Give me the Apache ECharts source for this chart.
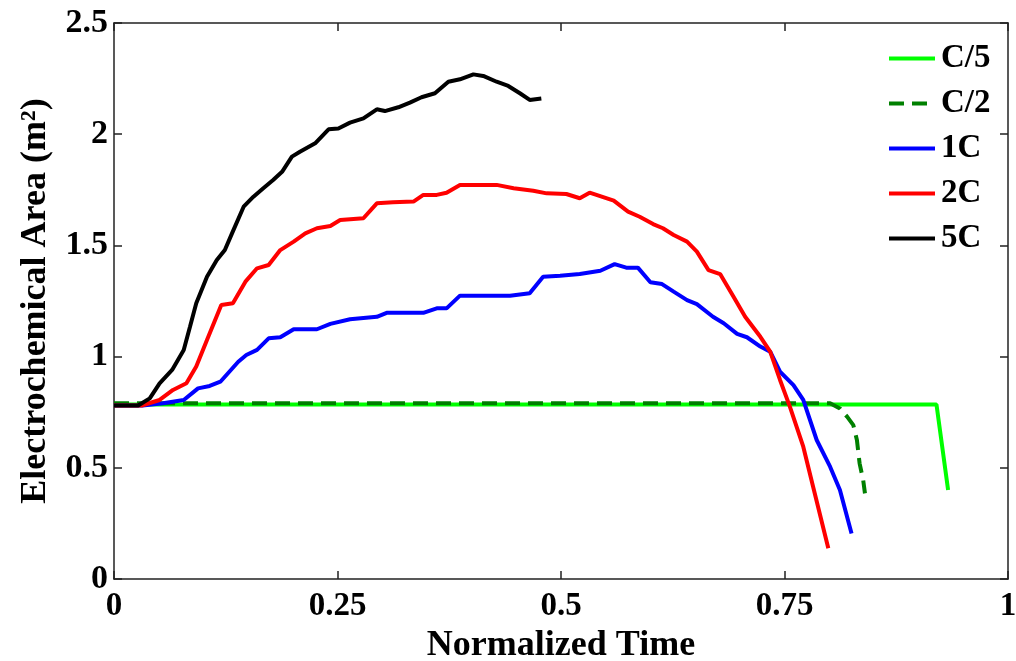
<!DOCTYPE html>
<html>
<head>
<meta charset="utf-8">
<script src="https://cdn.jsdelivr.net/npm/echarts@6/dist/echarts.min.js"></script>
<style>html,body{margin:0;padding:0;background:#fff}#c{width:1016px;height:661px}</style>
</head>
<body>
<div id="c"></div>
<script>
const seriesNames = ['C/5', 'C/2', '1C', '2C', '5C'];
const xTicks = [0, 0.25, 0.5, 0.75, 1];
const yTicks = [0, 0.5, 1, 1.5, 2, 2.5];

const dataC5 = [[0,0.785],[0.92,0.785],[0.933,0.40]];
const dataC2 = [[0,0.79],[0.801,0.79],[0.812,0.767],[0.820,0.730],[0.827,0.692],[0.831,0.625],[0.834,0.520],[0.838,0.445],[0.840,0.385]];
const data1C = [[0,0.78],[0.032,0.78],[0.055,0.79],[0.078,0.805],[0.094,0.857],[0.107,0.868],[0.119,0.887],[0.139,0.977],[0.148,1.007],[0.160,1.030],[0.173,1.082],[0.186,1.087],[0.201,1.123],[0.227,1.123],[0.242,1.147],[0.264,1.168],[0.294,1.179],[0.305,1.197],[0.346,1.197],[0.361,1.217],[0.372,1.217],[0.387,1.274],[0.443,1.274],[0.465,1.285],[0.480,1.359],[0.499,1.364],[0.521,1.371],[0.544,1.386],[0.560,1.416],[0.573,1.400],[0.586,1.400],[0.600,1.334],[0.613,1.326],[0.626,1.292],[0.641,1.254],[0.652,1.236],[0.670,1.179],[0.682,1.150],[0.697,1.102],[0.708,1.087],[0.723,1.045],[0.734,1.022],[0.745,0.932],[0.760,0.872],[0.771,0.805],[0.786,0.625],[0.801,0.505],[0.812,0.400],[0.825,0.205]];
const data2C = [[0,0.78],[0.031,0.78],[0.051,0.805],[0.066,0.850],[0.081,0.880],[0.092,0.955],[0.104,1.075],[0.120,1.232],[0.133,1.240],[0.147,1.337],[0.160,1.397],[0.173,1.412],[0.186,1.479],[0.201,1.517],[0.214,1.554],[0.227,1.577],[0.242,1.587],[0.253,1.614],[0.279,1.622],[0.294,1.689],[0.312,1.694],[0.335,1.697],[0.346,1.727],[0.361,1.727],[0.372,1.737],[0.387,1.772],[0.428,1.772],[0.447,1.757],[0.469,1.746],[0.484,1.734],[0.506,1.731],[0.521,1.712],[0.532,1.737],[0.559,1.701],[0.575,1.652],[0.588,1.629],[0.603,1.596],[0.614,1.577],[0.626,1.547],[0.641,1.517],[0.652,1.472],[0.665,1.389],[0.678,1.371],[0.693,1.269],[0.706,1.179],[0.723,1.089],[0.734,1.022],[0.745,0.895],[0.756,0.775],[0.771,0.595],[0.782,0.415],[0.799,0.138]];
const data5C = [[0,0.78],[0.027,0.78],[0.040,0.812],[0.051,0.880],[0.065,0.940],[0.078,1.030],[0.085,1.134],[0.092,1.240],[0.104,1.359],[0.115,1.434],[0.124,1.479],[0.132,1.554],[0.145,1.674],[0.156,1.719],[0.167,1.757],[0.178,1.794],[0.188,1.831],[0.199,1.899],[0.208,1.921],[0.225,1.959],[0.240,2.022],[0.251,2.026],[0.264,2.052],[0.279,2.071],[0.294,2.112],[0.303,2.104],[0.318,2.121],[0.331,2.142],[0.344,2.166],[0.359,2.184],[0.374,2.236],[0.387,2.247],[0.402,2.269],[0.413,2.262],[0.428,2.236],[0.441,2.217],[0.454,2.184],[0.465,2.154],[0.478,2.161]];

const allData = [dataC5, dataC2, data1C, data2C, data5C];
const colors = ['#00ff00', '#008000', '#0000ff', '#ff0000', '#000000'];
const dashes = ['solid', [15, 8], 'solid', 'solid', 'solid'];

const FONT = '"Liberation Serif", "Times New Roman", serif';
const axisLineStyle = { color: '#222', width: 1.5 };

const chart = echarts.init(document.getElementById('c'), null, { renderer: 'canvas' });

const xBase = {
  type: 'value', min: xTicks[0], max: xTicks[xTicks.length - 1], interval: 0.25,
  axisLine: { show: true, onZero: false, lineStyle: axisLineStyle },
  axisTick: { show: true, inside: true, length: 8, lineStyle: axisLineStyle },
  splitLine: { show: false }
};
const yBase = {
  type: 'value', min: yTicks[0], max: yTicks[yTicks.length - 1], interval: 0.5,
  axisLine: { show: true, onZero: false, lineStyle: axisLineStyle },
  axisTick: { show: true, inside: true, length: 8, lineStyle: axisLineStyle },
  splitLine: { show: false }
};

chart.setOption({
  animation: false,
  backgroundColor: '#fff',
  grid: { left: 114, top: 23, right: 8, bottom: 82, containLabel: false, outerBoundsMode: 'none' },
  legend: {
    orient: 'vertical', left: 882, top: 37,
    itemWidth: 46, itemHeight: 18, itemGap: 12,
    data: seriesNames,
    itemStyle: { opacity: 0 },
    lineStyle: { width: 4 },
    textStyle: { fontFamily: FONT, fontWeight: 'bold', fontSize: 33, color: '#000', padding: [0, 0, 0, 1] }
  },
  xAxis: [
    Object.assign({}, xBase, {
      position: 'bottom',
      name: 'Normalized Time', nameLocation: 'middle', nameGap: 43,
      nameTextStyle: { fontFamily: FONT, fontWeight: 'bold', fontSize: 36, color: '#000' },
      axisLabel: { show: true, margin: 11, fontFamily: FONT, fontWeight: 'bold', fontSize: 33, color: '#000',
        formatter: v => String(v) }
    }),
    Object.assign({}, xBase, { position: 'top', axisLabel: { show: false } })
  ],
  yAxis: [
    Object.assign({}, yBase, {
      position: 'left',
      name: 'Electrochemical Area (m²)', nameLocation: 'middle', nameGap: 60,
      nameTextStyle: { fontFamily: FONT, fontWeight: 'bold', fontSize: 36, color: '#000' },
      axisLabel: { show: true, margin: 6, fontFamily: FONT, fontWeight: 'bold', fontSize: 34, color: '#000',
        formatter: v => String(v) }
    }),
    Object.assign({}, yBase, { position: 'right', axisLabel: { show: false } })
  ],
  series: seriesNames.map((n, i) => ({
    name: n, type: 'line', data: allData[i], symbol: 'none', showSymbol: false,
    xAxisIndex: 0, yAxisIndex: 0,
    lineStyle: { color: colors[i], width: 4, type: dashes[i] },
    itemStyle: { color: colors[i] },
    z: 2 + i
  }))
});
</script>
</body>
</html>
